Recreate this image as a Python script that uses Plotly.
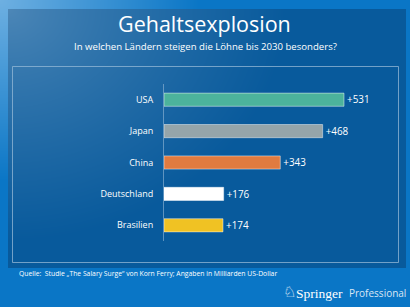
import base64, struct, zlib
import numpy as np
import plotly.graph_objects as go

# ---- data ----
countries = ["USA", "Japan", "China", "Deutschland", "Brasilien"]
values = [531, 468, 343, 176, 174]
bar_colors = ["#4cb39c", "#95a5aa", "#e07b40", "#ffffff", "#f0c223"]
title = "Gehaltsexplosion"
subtitle = "In welchen Ländern steigen die Löhne bis 2030 besonders?"
source = "Quelle:  Studie „The Salary Surge“ von Korn Ferry; Angaben in Milliarden US-Dollar"

# ---- geometry ----
FW, FH = 410, 307
L, R, T, B = 164, 12, 84, 66
PW, PH = FW - L - R, FH - T - B


def px(x):
    return (x - L) / PW


def py(y):
    return (FH - B - y) / PH


# ---- background gradient image ----
def make_bg():
    yy, xx = np.mgrid[0:FH, 0:FW].astype(float)
    d = np.sqrt(xx ** 2 + (yy * 1.1) ** 2)
    light_o = np.array([110, 176, 226.0])
    dark_o = np.array([10, 118, 198.0])
    t = np.clip(d / 200.0, 0, 1)[..., None]
    img = light_o * (1 - t) + dark_o * t
    light_p = np.array([78, 136, 184.0])
    dark_p = np.array([8, 90, 156.0])
    dp = np.sqrt((xx - 8) ** 2 + ((yy - 9) * 1.2) ** 2)
    tp = np.clip(dp / 280.0, 0, 1) ** 0.8
    tp = tp[..., None]
    panel = light_p * (1 - tp) + dark_p * tp
    mask = ((xx >= 8) & (xx <= 405) & (yy >= 9) & (yy <= 267))[..., None]
    img = np.where(mask, panel, img)
    arr = np.clip(img, 0, 255).astype(np.uint8)
    raw = b"".join(b"\x00" + arr[i].tobytes() for i in range(FH))

    def chunk(tag, data):
        c = struct.pack(">I", len(data)) + tag + data
        return c + struct.pack(">I", zlib.crc32(tag + data) & 0xFFFFFFFF)

    png = b"\x89PNG\r\n\x1a\n" + chunk(b"IHDR", struct.pack(">IIBBBBB", FW, FH, 8, 2, 0, 0, 0)) \
        + chunk(b"IDAT", zlib.compress(raw, 9)) + chunk(b"IEND", b"")
    return "data:image/png;base64," + base64.b64encode(png).decode()


FONT = "Open Sans"

fig = go.Figure(go.Bar(
    x=values,
    y=countries,
    orientation="h",
    marker=dict(color=bar_colors, line=dict(color="rgba(255,255,255,0.45)", width=1)),
    width=0.42,
    text=["+" + str(v) for v in values],
    textposition="outside",
    textfont=dict(color="white", size=10.5, family=FONT),
    cliponaxis=False,
    hoverinfo="skip",
))

fig.update_layout(
    width=FW, height=FH,
    margin=dict(l=L, r=R, t=T, b=B, pad=0),
    paper_bgcolor="#0a76c6",
    plot_bgcolor="rgba(0,0,0,0)",
    showlegend=False,
    xaxis=dict(range=[0, PW / 0.339], visible=False, fixedrange=True),
    yaxis=dict(autorange="reversed", showgrid=False, zeroline=False, fixedrange=True,
               showline=True, linecolor="rgba(150,185,215,0.6)", linewidth=1,
               ticks="", ticklabelstandoff=8,
               tickfont=dict(color="white", size=9, family=FONT)),
    images=[dict(source=make_bg(), xref="paper", yref="paper",
                 x=px(0), y=py(0), sizex=FW / PW, sizey=FH / PH,
                 xanchor="left", yanchor="top", sizing="stretch", layer="below")],
    shapes=[dict(type="rect", xref="paper", yref="paper",
                 x0=px(12.5), x1=px(398.5), y0=py(66.5), y1=py(262.5),
                 line=dict(color="rgba(150,185,215,0.75)", width=1), layer="below")],
)

ann = [
    dict(text=title, x=px(204), y=py(23), font=dict(size=21.5, color="white", family=FONT)),
    dict(text=subtitle, x=px(205), y=py(46), font=dict(size=9.6, color="white", family=FONT)),
    dict(text=source, x=px(17), y=py(273), xanchor="left",
         font=dict(size=6.8, color="white", family=FONT)),
    dict(text="♘", x=px(289), y=py(292), font=dict(size=15, color="white", family="DejaVu Sans")),
    dict(text="Springer", x=px(345), y=py(293), xanchor="right",
         font=dict(size=13.5, color="white", family="Liberation Serif")),
    dict(text="Professional", x=px(347), y=py(293), xanchor="left",
         font=dict(size=10, color="rgba(255,255,255,0.85)", family="Open Sans")),
]
for a in ann:
    a.setdefault("xanchor", "center")
    a.update(xref="paper", yref="paper", yanchor="middle", showarrow=False)
fig.update_layout(annotations=ann)

fig.write_html("out.html", config={"displayModeBar": False},
               post_script="document.body.style.margin='0';document.body.style.overflow='hidden';")
